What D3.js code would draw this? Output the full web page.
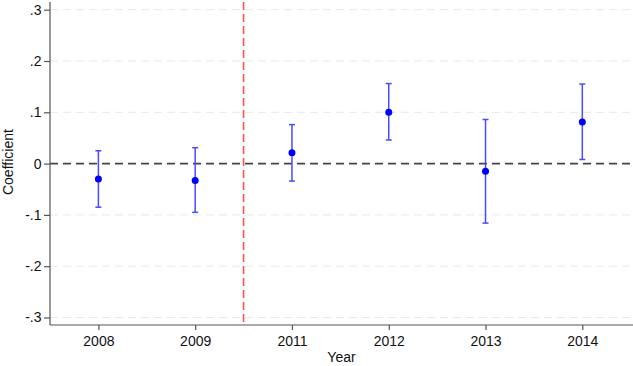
<!DOCTYPE html>
<html lang="en">
<head>
<meta charset="UTF-8">
<title>Event study</title>
<script src="https://d3js.org/d3.v7.min.js"></script>
<style>
  body { margin: 0; background: #fff; }
  text { font-family: "Liberation Sans", Arial, sans-serif; }
</style>
</head>
<body>
<div id="chart"></div>
<script>
// data
const years = ["2008", "2009", "2011", "2012", "2013", "2014"];
const coef  = [-0.030, -0.033, 0.021, 0.100, -0.015, 0.081];
const upper = [0.025, 0.031, 0.076, 0.156, 0.086, 0.155];
const lower = [-0.085, -0.095, -0.034, 0.046, -0.116, 0.008];
const yTicks = [-0.3, -0.2, -0.1, 0, 0.1, 0.2, 0.3];
const yTickLabels = ["-.3", "-.2", "-.1", "0", ".1", ".2", ".3"];
const breakAt = 1.5; // treatment line between 2009 and 2011

const W = 633, H = 366;
const plot = {left: 50, right: 630.7, top: 2, bottom: 325};

const svg = d3.select("#chart").append("svg")
    .attr("width", W).attr("height", H);

const x = d3.scaleLinear().domain([-0.5, years.length - 0.5]).range([plot.left, plot.right]);
const y = d3.scaleLinear().domain([-0.3, 0.3]).range([317.5, 9.7]);

// gridlines
svg.append("g").selectAll("line")
    .data(yTicks.filter(d => d !== 0))
  .join("line")
    .attr("x1", plot.left).attr("x2", plot.right)
    .attr("y1", d => y(d)).attr("y2", d => y(d))
    .attr("stroke", "#e8e8e8")
    .attr("stroke-width", 1)
    .attr("stroke-dasharray", "8,5");

// zero line
svg.append("line")
    .attr("x1", plot.left).attr("x2", plot.right)
    .attr("y1", y(0)).attr("y2", y(0))
    .attr("stroke", "#444")
    .attr("stroke-width", 1.7)
    .attr("stroke-dasharray", "8,5");

// red vertical line
svg.append("line")
    .attr("x1", x(breakAt)).attr("x2", x(breakAt))
    .attr("y1", plot.top).attr("y2", plot.bottom)
    .attr("stroke", "#ff5050")
    .attr("stroke-width", 1.6)
    .attr("stroke-dasharray", "8,4");

// axes
const yAxis = svg.append("g")
    .attr("transform", `translate(${plot.left},0)`)
    .call(d3.axisLeft(y).tickValues(yTicks)
        .tickFormat((d, i) => yTickLabels[i]).tickSize(6).tickSizeOuter(0));
yAxis.select(".domain").attr("d", `M0,${plot.top}V${plot.bottom}`);

const xAxis = svg.append("g")
    .attr("transform", `translate(0,${plot.bottom})`)
    .call(d3.axisBottom(x).tickValues(d3.range(years.length))
        .tickFormat(i => years[i]).tickSize(5).tickSizeOuter(0));
xAxis.select(".domain").attr("d", `M${plot.left},0H${W}`);

svg.selectAll(".domain, .tick line").attr("stroke", "#555").attr("stroke-width", 1.2);
svg.selectAll(".tick text")
    .attr("fill", "#111")
    .style("font-size", "14px")
    .style("font-family", "'Liberation Sans', Arial, sans-serif");
yAxis.selectAll(".tick text").attr("x", -8.5);
xAxis.selectAll(".tick text").attr("y", 11);

// axis titles
svg.append("text")
    .attr("transform", `translate(13,${y(0) - 1.5}) rotate(-90)`)
    .attr("text-anchor", "middle")
    .style("font-size", "14px")
    .attr("fill", "#111")
    .text("Coefficient");

svg.append("text")
    .attr("x", 341.5)
    .attr("y", 362)
    .attr("text-anchor", "middle")
    .style("font-size", "14px")
    .attr("fill", "#111")
    .text("Year");

// error bars
const bars = svg.append("g").selectAll("g")
    .data(years.map((yr, i) => ({i, c: coef[i], lo: lower[i], hi: upper[i]})))
  .join("g");

bars.append("line")
    .attr("x1", d => x(d.i)).attr("x2", d => x(d.i))
    .attr("y1", d => y(d.hi)).attr("y2", d => y(d.lo))
    .attr("stroke", "#4a4aff").attr("stroke-width", 1.5);
bars.append("line")
    .attr("x1", d => x(d.i) - 3).attr("x2", d => x(d.i) + 3)
    .attr("y1", d => y(d.hi)).attr("y2", d => y(d.hi))
    .attr("stroke", "#4a4aff").attr("stroke-width", 1.5);
bars.append("line")
    .attr("x1", d => x(d.i) - 3).attr("x2", d => x(d.i) + 3)
    .attr("y1", d => y(d.lo)).attr("y2", d => y(d.lo))
    .attr("stroke", "#4a4aff").attr("stroke-width", 1.5);
bars.append("circle")
    .attr("cx", d => x(d.i)).attr("cy", d => y(d.c))
    .attr("r", 3.5)
    .attr("fill", "#0000ff");
</script>
</body>
</html>
